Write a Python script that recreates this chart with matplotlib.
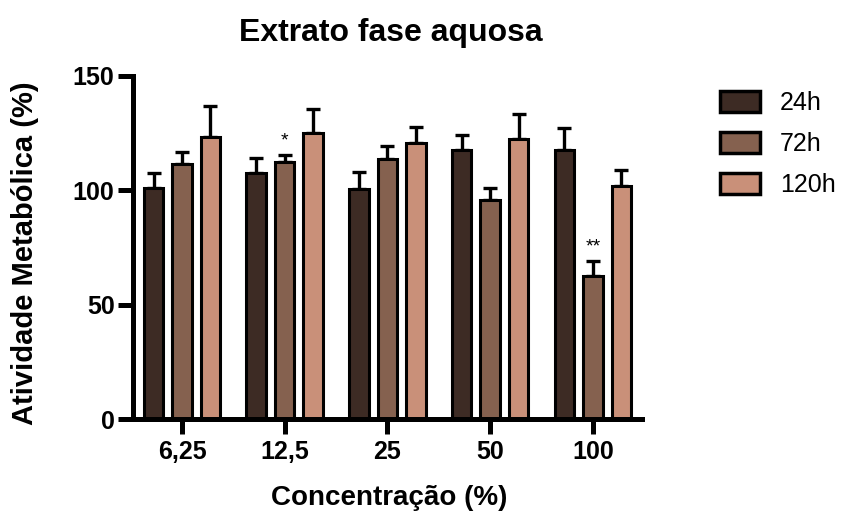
import numpy as np
import matplotlib
matplotlib.use("Agg")
import matplotlib.pyplot as plt

plt.rcParams['font.family'] = ['Liberation Sans', 'DejaVu Sans']

# data
concentrations = ["6,25", "12,5", "25", "50", "100"]
series_names = ["24h", "72h", "120h"]
mean_24h = [101, 107.5, 100.7, 117.5, 117.5]
mean_72h = [111.3, 112.5, 113.7, 95.9, 62.5]
mean_120h = [123.1, 125, 120.6, 122.6, 101.8]
err_24h = [6.6, 6.8, 7.1, 6.8, 9.7]
err_72h = [5.6, 2.8, 5.7, 5.1, 6.5]
err_120h = [13.7, 10.3, 7.2, 10.8, 7.2]
colors = ["#3d2b24", "#85614f", "#c99079"]
# significance marks: (group index, series index, text)
marks = [(1, 1, "*"), (4, 1, "**")]

means = [mean_24h, mean_72h, mean_120h]
errs = [err_24h, err_72h, err_120h]

fig = plt.figure(figsize=(8.45, 5.3), dpi=100)
ax = fig.add_axes([0.157, 0.209, 0.603, 0.648])

x = np.arange(len(concentrations))
width = 0.19
step = 0.277
for i, (m, e) in enumerate(zip(means, errs)):
    pos = x + (i - 1) * step
    ax.bar(pos, m, width, color=colors[i], edgecolor="black", linewidth=2.2,
           label=series_names[i], zorder=2)
    ax.errorbar(pos, m, yerr=[np.zeros(len(e)), e], fmt="none", ecolor="black",
                elinewidth=2.4, capsize=5, capthick=2.4, zorder=1)

for g, s, txt in marks:
    xpos = x[g] + (s - 1) * step
    ytop = means[s][g] + errs[s][g]
    ax.text(xpos, ytop + 2.5, txt, ha="center", va="bottom", fontsize=14)

ax.set_xlim(-0.48, 4.48)
ax.set_ylim(0, 150)
ax.set_yticks([0, 50, 100, 150])
ax.set_xticks(x)
ax.set_xticklabels(concentrations)
for sp in ["top", "right"]:
    ax.spines[sp].set_visible(False)
for sp in ["left", "bottom"]:
    ax.spines[sp].set_linewidth(3.6)
ax.tick_params(axis="both", width=3.6, length=11, labelsize=18, direction="out")
ax.tick_params(axis="x", pad=4)
ax.tick_params(axis="y", pad=2)
for lbl in ax.get_xticklabels() + ax.get_yticklabels():
    lbl.set_fontweight("bold")

fig.text(0.462, 0.938, "Extrato fase aquosa", ha="center", va="center",
         fontsize=23, fontweight="bold")
fig.text(0.03, 0.523, "Atividade Metabólica (%)", ha="center", va="center",
         rotation=90, fontsize=21, fontweight="bold")
fig.text(0.46, 0.06, "Concentração (%)", ha="center", va="center",
         fontsize=20, fontweight="bold")

leg = fig.legend(loc="upper left", bbox_to_anchor=(0.852, 0.828), frameon=False,
                 fontsize=18, handlelength=1.6, handleheight=0.88, handletextpad=0.8,
                 labelspacing=0.68, borderpad=0, borderaxespad=0)
for h in leg.legend_handles:
    h.set_linewidth(2.5)

fig.savefig("out.png", dpi=100)
